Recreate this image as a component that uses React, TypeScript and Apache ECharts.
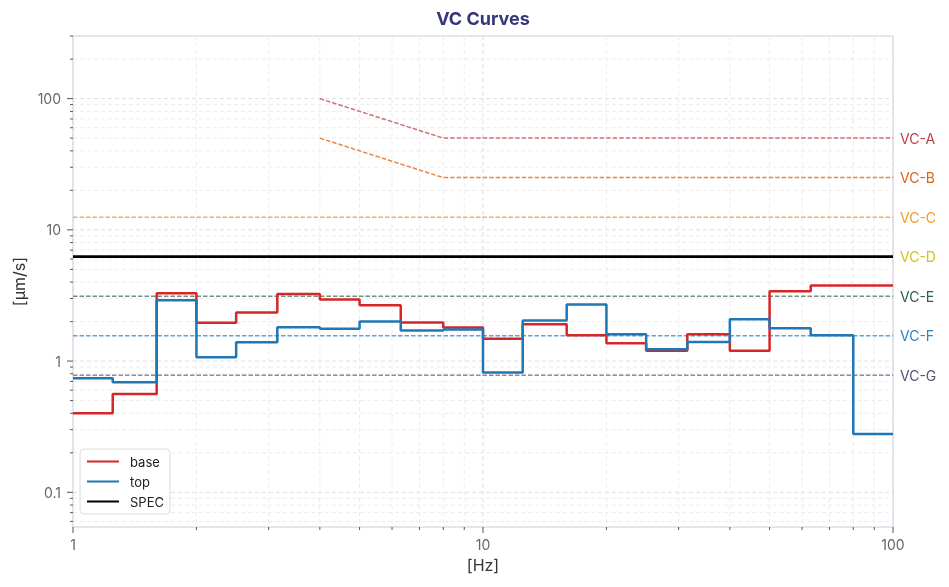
import React, { useEffect, useRef } from 'react';
import * as echarts from 'echarts';

// ---- data ----
const bandFreqs = [1, 1.25, 1.6, 2, 2.5, 3.15, 4, 5, 6.3, 8, 10, 12.5, 16, 20, 25, 31.5, 40, 50, 63, 80, 100];
const baseValues = [0.40, 0.56, 3.28, 1.96, 2.35, 3.24, 2.95, 2.66, 1.97, 1.80, 1.48, 1.91, 1.57, 1.37, 1.20, 1.60, 1.20, 3.40, 3.77, 3.77, 3.77];
const topValues = [0.74, 0.69, 2.91, 1.07, 1.39, 1.81, 1.76, 2.00, 1.71, 1.74, 0.82, 2.04, 2.70, 1.60, 1.23, 1.40, 2.08, 1.78, 1.57, 0.278, 0.278];

const vcAFreqs = [4, 8, 100];
const vcAValues = [100, 50, 50];
const vcBFreqs = [4, 8, 100];
const vcBValues = [50, 25, 25];
const flatFreqs = [1, 100];
const vcFlatLabels = ['VC-C', 'VC-D', 'VC-E', 'VC-F', 'VC-G'];
const vcFlatLevels = [12.5, 6.25, 3.125, 1.5625, 0.78125];
const specFreqs = [1, 100];
const specValues = [6.25, 6.25];

const xMajorTicks = [1, 10, 100];
const xMinorTicks = [2, 3, 4, 5, 6, 7, 8, 9, 20, 30, 40, 50, 60, 70, 80, 90];
const yMajorTicks = [0.1, 1, 10, 100];
const yMinorTicks = [0.06, 0.07, 0.08, 0.09, 0.2, 0.3, 0.4, 0.5, 0.6, 0.7, 0.8, 0.9, 2, 3, 4, 5, 6, 7, 8, 9, 20, 30, 40, 50, 60, 70, 80, 90, 200, 300];

// ---- styles ----
const FONT = 'Inter, "Noto Sans", sans-serif';
const vcLineColors: Record<string, string> = {
  'VC-A': '#cc7373', 'VC-B': '#e3894a', 'VC-C': '#f3b24e', 'VC-D': '#d8cc3a',
  'VC-E': '#6d9381', 'VC-F': '#5fa3d6', 'VC-G': '#8a8aa2',
};
const vcTextColors: Record<string, string> = {
  'VC-A': '#be4048', 'VC-B': '#d5661e', 'VC-C': '#ee9f26', 'VC-D': '#cfc21c',
  'VC-E': '#2d5e47', 'VC-F': '#2d85c4', 'VC-G': '#545476',
};

const isPow10 = (v: number) => {
  const e = Math.log10(v);
  return Math.abs(e - Math.round(e)) < 1e-6;
};
const fmt = (v: number) => (isPow10(v) ? String(+v.toPrecision(6)) : '');

function gridLines(values: number[], dir: 'x' | 'y', color: string) {
  return {
    type: 'custom',
    silent: true,
    z: 1,
    clip: false,
    data: values.map((v) => (dir === 'x' ? [v, 1] : [1, v])),
    encode: { x: 0, y: 1 },
    renderItem: (params: any, api: any) => {
      const cs = params.coordSys;
      const p = api.coord([api.value(0), api.value(1)]);
      const shape = dir === 'x'
        ? { x1: p[0], y1: cs.y, x2: p[0], y2: cs.y + cs.height }
        : { x1: cs.x, y1: p[1], x2: cs.x + cs.width, y2: p[1] };
      return { type: 'line', shape, style: { stroke: color, lineWidth: 1, lineDash: [4, 3] } };
    },
  };
}

function tickMarks(values: number[], dir: 'x' | 'y', len: number) {
  return {
    type: 'custom',
    silent: true,
    z: 3,
    clip: false,
    data: values.map((v) => (dir === 'x' ? [v, 1] : [1, v])),
    encode: { x: 0, y: 1 },
    renderItem: (params: any, api: any) => {
      const cs = params.coordSys;
      const p = api.coord([api.value(0), api.value(1)]);
      const shape = dir === 'x'
        ? { x1: p[0], y1: cs.y + cs.height, x2: p[0], y2: cs.y + cs.height + len }
        : { x1: cs.x - len, y1: p[1], x2: cs.x, y2: p[1] };
      return { type: 'line', shape, style: { stroke: '#555', lineWidth: 1 } };
    },
  };
}

function vcSeries(name: string, freqs: number[], values: number[]) {
  return {
    name,
    type: 'line',
    silent: true,
    symbol: 'none',
    z: 3,
    data: freqs.map((f, i) => [f, values[i]]),
    lineStyle: { color: vcLineColors[name], width: 1.5, type: [4.5, 2] },
    itemStyle: { color: vcLineColors[name] },
    endLabel: {
      show: true,
      formatter: name,
      color: vcTextColors[name],
      fontSize: 14,
      fontFamily: FONT,
      distance: 7,
    },
  };
}

function buildOption() {
  const series: any[] = [
    gridLines(xMinorTicks, 'x', '#ececf1'),
    gridLines(yMinorTicks, 'y', '#ececf1'),
    gridLines(xMajorTicks, 'x', '#dedee6'),
    gridLines(yMajorTicks, 'y', '#dedee6'),
    tickMarks(xMajorTicks, 'x', 6),
    tickMarks(xMinorTicks, 'x', 3),
    tickMarks(yMajorTicks, 'y', 6),
    tickMarks(yMinorTicks, 'y', 3),
    vcSeries('VC-A', vcAFreqs, vcAValues),
    vcSeries('VC-B', vcBFreqs, vcBValues),
    ...vcFlatLabels.map((n, i) => vcSeries(n, flatFreqs, [vcFlatLevels[i], vcFlatLevels[i]])),
    {
      name: 'base', type: 'line', step: 'end', symbol: 'none', z: 5,
      data: bandFreqs.map((f, i) => [f, baseValues[i]]),
      lineStyle: { color: '#d62728', width: 2.5 }, itemStyle: { color: '#d62728' },
    },
    {
      name: 'top', type: 'line', step: 'end', symbol: 'none', z: 6,
      data: bandFreqs.map((f, i) => [f, topValues[i]]),
      lineStyle: { color: '#1f77b4', width: 2.5 }, itemStyle: { color: '#1f77b4' },
    },
    {
      name: 'SPEC', type: 'line', symbol: 'none', z: 7,
      data: specFreqs.map((f, i) => [f, specValues[i]]),
      lineStyle: { color: '#000', width: 2.8 }, itemStyle: { color: '#000' },
    },
  ];

  return {
    animation: false,
    title: {
      text: 'VC Curves',
      left: 483,
      textAlign: 'center',
      top: 9,
      padding: 0,
      textStyle: { fontSize: 18, fontWeight: 'bold', color: '#35357a', fontFamily: FONT },
    },
    grid: {
      left: 73, right: 56, top: 36, bottom: 60,
      show: true, borderColor: '#cacadc', borderWidth: 1, backgroundColor: 'transparent',
    },
    legend: {
      data: ['base', 'top', 'SPEC'],
      orient: 'vertical',
      left: 80,
      top: 449,
      padding: 6,
      itemWidth: 32,
      itemHeight: 14,
      itemGap: 7,
      backgroundColor: '#fff',
      borderColor: '#dcdcdc',
      borderWidth: 1,
      borderRadius: 4,
      selectedMode: false,
      itemStyle: { opacity: 0 },
      textStyle: { fontSize: 13, color: '#222', fontFamily: FONT, padding: [0, 0, 0, 6] },
    },
    xAxis: {
      type: 'log', logBase: 10, min: 1, max: 100,
      axisLine: { show: false }, axisTick: { show: false }, splitLine: { show: false },
      axisLabel: { formatter: fmt, color: '#666', fontSize: 14, fontFamily: FONT, margin: 10 },
      name: '[Hz]', nameLocation: 'middle', nameGap: 30,
      nameTextStyle: { fontSize: 16, color: '#333', fontFamily: FONT },
    },
    yAxis: {
      type: 'log', logBase: 10, min: 0.0544, max: 300,
      axisLine: { show: false }, axisTick: { show: false }, splitLine: { show: false },
      axisLabel: { formatter: fmt, color: '#666', fontSize: 14, fontFamily: FONT, margin: 12 },
      name: '[µm/s]', nameLocation: 'middle', nameGap: 44,
      nameTextStyle: { fontSize: 16, color: '#333', fontFamily: FONT },
    },
    series,
  };
}

export default function App() {
  const ref = useRef<HTMLDivElement>(null);
  useEffect(() => {
    if (!ref.current) return;
    const chart = echarts.init(ref.current, undefined, { renderer: 'svg' });
    chart.setOption(buildOption() as any);
    return () => chart.dispose();
  }, []);
  return <div ref={ref} style={{ position: 'fixed', left: 0, top: 0, width: 949, height: 587 }} />;
}
